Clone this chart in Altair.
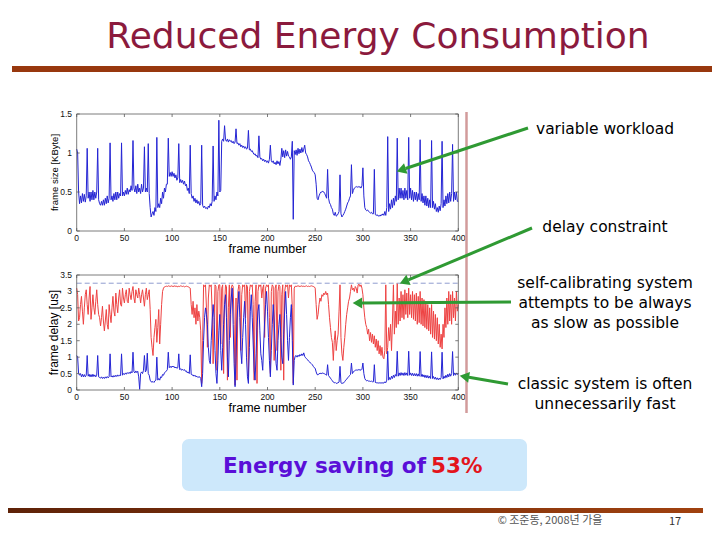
import math
import pandas as pd
import altair as alt

# ---------------- data ----------------
FRAME_SIZE = [
    1.05, 1.0, 0.5, 0.35, 0.45, 0.36, 0.48, 0.38, 0.47, 0.37,
    0.45, 1.06, 0.42, 0.5, 0.38, 0.5, 0.4, 0.52, 0.4, 0.5,
    0.42, 0.5, 1.06, 0.4, 0.35, 0.33, 0.38, 0.33, 0.4, 0.33,
    0.42, 0.35, 0.45, 0.36, 0.42, 1.13, 0.4, 0.45, 0.38, 0.48,
    0.4, 0.5, 0.4, 0.5, 0.42, 0.48, 0.45, 1.13, 0.45, 0.5,
    0.45, 0.52, 0.47, 0.55, 0.47, 0.53, 0.5, 0.58, 0.52, 1.16,
    0.55, 0.5, 0.58, 0.48, 0.6, 0.5, 0.55, 0.48, 0.6, 0.5,
    0.55, 1.08, 0.5, 0.55, 0.5, 1.12, 0.48, 0.3, 0.18, 0.22,
    0.25, 0.2, 0.3, 0.25, 1.2, 0.3, 0.35, 0.3, 0.42, 0.35,
    0.5, 0.42, 0.55, 0.5, 0.6, 0.6, 1.19, 0.7, 0.75, 0.7,
    0.76, 0.7, 0.74, 0.68, 0.72, 0.65, 0.68, 1.12, 0.62, 0.66,
    0.62, 0.65, 0.6, 0.64, 0.58, 0.6, 0.52, 0.55, 0.48, 1.1,
    0.48, 0.42, 0.45, 0.38, 0.42, 0.36, 0.4, 0.35, 0.38, 0.33,
    0.35, 1.1, 0.33, 0.3, 0.32, 0.29, 0.3, 0.28, 0.32, 0.3,
    0.35, 0.32, 0.38, 1.09, 0.38, 0.45, 0.4, 0.5, 0.45, 1.42,
    0.5, 0.52, 1.15, 1.18, 1.15, 1.35, 1.17, 1.15, 1.18, 1.14,
    1.17, 1.15, 1.16, 1.13, 1.15, 1.12, 1.14, 1.31, 1.12, 1.13,
    1.1, 1.12, 1.08, 1.1, 1.07, 1.09, 1.06, 1.08, 1.05, 1.06,
    1.29, 1.04, 1.05, 1.02, 1.03, 1.0, 0.98, 0.99, 0.96, 0.97,
    0.94, 1.22, 0.95, 0.92, 0.93, 0.9, 0.92, 0.89, 0.91, 0.88,
    0.9, 0.87, 0.92, 1.1, 0.9, 0.88, 0.9, 0.86, 0.88, 0.85,
    0.9, 0.86, 0.89, 0.84, 0.92, 1.06, 0.95, 1.03, 0.94, 1.04,
    0.96, 1.02, 0.96, 0.95, 0.92, 0.95, 1.15, 0.15, 1.03, 0.98,
    1.04, 0.97, 1.06, 0.99, 1.05, 1.0, 1.07, 1.01, 1.05, 1.1,
    1.0, 0.98, 0.95, 0.9, 0.88, 0.85, 0.82, 0.78, 0.76, 0.75,
    0.72, 0.6, 0.42, 0.4, 0.45, 0.48, 0.5, 0.5, 0.51, 0.5,
    0.48, 0.45, 0.42, 0.79, 0.42, 0.36, 0.34, 0.3, 0.28, 0.22,
    0.2, 0.24, 0.19, 0.2, 0.22, 0.25, 0.72, 0.22, 0.18, 0.2,
    0.22, 0.25, 0.28, 0.32, 0.36, 0.38, 0.42, 0.45, 0.85, 0.48,
    0.52, 0.55, 0.56, 0.57, 0.56, 0.57, 0.56, 0.57, 0.55, 0.58,
    0.81, 0.45, 0.3, 0.27, 0.26, 0.27, 0.25, 0.24, 0.23, 0.24,
    0.22, 0.22, 0.79, 0.21, 0.2, 0.21, 0.19, 0.2, 0.19, 0.21,
    0.2, 0.22, 0.2, 0.25, 0.2, 0.3, 1.21, 0.25, 0.35, 0.28,
    0.4, 0.3, 0.42, 0.33, 0.45, 0.38, 1.19, 0.4, 0.55, 0.42,
    0.55, 0.42, 0.52, 0.4, 0.55, 0.42, 0.52, 0.4, 1.2, 0.42,
    0.55, 0.4, 0.52, 0.38, 0.5, 0.4, 0.5, 0.38, 0.48, 0.4,
    1.17, 0.38, 0.48, 0.36, 0.45, 0.33, 0.45, 0.32, 0.42, 0.3,
    0.4, 0.3, 1.16, 0.3, 0.38, 0.28, 0.35, 0.25, 0.3, 0.24,
    0.32, 0.26, 0.35, 1.15, 0.3, 0.4, 0.32, 0.45, 0.35, 0.48,
    0.36, 0.5, 0.38, 0.48, 1.11, 0.38, 0.5, 0.4, 0.5, 0.38,
    0.38,
]

CLASSIC_DELAY = [
    1.05, 1.0, 0.5, 0.45, 0.5, 0.4, 0.48, 0.4, 0.47, 0.4,
    0.45, 1.05, 0.42, 0.48, 0.4, 0.47, 0.4, 0.48, 0.41, 0.46,
    0.4, 0.45, 1.05, 0.4, 0.38, 0.36, 0.4, 0.35, 0.39, 0.35,
    0.4, 0.36, 0.41, 0.37, 0.4, 1.1, 0.4, 0.43, 0.39, 0.44,
    0.4, 0.45, 0.41, 0.46, 0.42, 0.45, 0.44, 1.1, 0.45, 0.5,
    0.47, 0.52, 0.48, 0.53, 0.5, 0.54, 0.5, 0.56, 0.52, 1.15,
    0.55, 0.52, 0.58, 0.53, 0.57, 0.4, 0.02, 0.5, 0.55, 0.5,
    0.6, 1.05, 0.55, 0.6, 1.12, 0.5, 0.45, 0.3, 0.25, 0.24,
    0.26, 0.23, 0.28, 0.3, 1.0, 0.3, 0.35, 0.3, 0.4, 0.38,
    0.47, 0.45, 0.52, 0.55, 0.58, 0.62, 1.15, 0.68, 0.72, 0.68,
    0.73, 0.7, 0.72, 0.67, 0.7, 0.66, 0.68, 1.1, 0.62, 0.65,
    0.6, 0.63, 0.6, 0.62, 0.57, 0.58, 0.52, 0.55, 0.5, 1.07,
    0.48, 0.45, 0.46, 0.42, 0.45, 0.4, 0.42, 0.38, 0.4, 0.4,
    0.35, 0.1, 0.5, 1.5, 2.2, 2.5, 2.3, 2.0, 1.3, 0.9,
    0.8, 1.5, 2.1, 2.6, 2.2, 1.2, 0.5, 0.2, 0.9, 1.8,
    2.3, 1.2, 0.6, 1.3, 2.0, 2.6, 2.9, 2.2, 1.0, 0.4,
    1.5, 2.3, 2.8, 3.1, 2.0, 0.8, 0.1, 1.0, 2.1, 2.6,
    3.0, 2.2, 1.2, 0.8, 1.6, 2.2, 2.7, 2.0, 1.0, 0.4,
    0.2, 1.3, 2.4, 2.9, 2.2, 1.4, 0.6, 0.3, 1.1, 1.9,
    2.4, 2.6, 1.8, 1.1, 0.9, 0.6, 1.4, 2.1, 2.6, 3.0,
    2.4, 1.6, 0.9, 0.4, 1.2, 2.0, 2.6, 2.1, 1.4, 0.8,
    0.6, 1.5, 2.0, 2.3, 1.6, 1.0, 0.8, 1.7, 2.4, 3.0,
    2.3, 1.5, 0.9, 1.6, 2.2, 2.6, 1.5, 0.15, 0.9, 1.03,
    1.05, 1.0, 1.06, 1.02, 1.08, 1.04, 1.1, 1.05, 1.13, 1.02,
    0.98, 0.95, 0.92, 0.88, 0.86, 0.82, 0.8, 0.77, 0.72, 0.68,
    0.66, 0.55, 0.47, 0.46, 0.5, 0.5, 0.51, 0.5, 0.52, 0.5,
    0.49, 0.47, 0.45, 0.77, 0.44, 0.4, 0.36, 0.32, 0.28, 0.24,
    0.22, 0.23, 0.2, 0.21, 0.22, 0.24, 0.72, 0.22, 0.2, 0.21,
    0.22, 0.26, 0.3, 0.33, 0.37, 0.4, 0.44, 0.47, 0.82, 0.5,
    0.55, 0.58, 0.6, 0.61, 0.6, 0.62, 0.61, 0.62, 0.6, 0.63,
    0.82, 0.5, 0.35, 0.3, 0.28, 0.29, 0.27, 0.27, 0.26, 0.27,
    0.25, 0.25, 0.77, 0.23, 0.22, 0.22, 0.21, 0.22, 0.21, 0.22,
    0.21, 0.22, 0.21, 0.25, 0.22, 0.3, 1.18, 0.3, 0.38, 0.32,
    0.42, 0.35, 0.45, 0.38, 0.47, 0.42, 1.18, 0.42, 0.52, 0.44,
    0.53, 0.45, 0.52, 0.44, 0.53, 0.45, 0.52, 0.44, 1.18, 0.45,
    0.52, 0.44, 0.51, 0.43, 0.5, 0.43, 0.5, 0.42, 0.49, 0.42,
    1.17, 0.41, 0.48, 0.4, 0.46, 0.38, 0.45, 0.37, 0.44, 0.36,
    0.42, 0.35, 1.16, 0.35, 0.41, 0.33, 0.39, 0.32, 0.37, 0.31,
    0.36, 0.32, 0.38, 1.15, 0.34, 0.42, 0.36, 0.45, 0.38, 0.48,
    0.4, 0.5, 0.42, 0.5, 1.17, 0.44, 0.52, 0.45, 0.52, 0.47,
    0.5,
]

CALIBRATED_DELAY = [
    3.1, 2.9, 2.1, 2.2, 2.6, 2.85, 2.4, 2.0, 2.5, 2.9,
    3.05, 2.6, 2.3, 2.8, 3.15, 2.15, 2.5, 2.9, 2.5, 2.3,
    2.7, 3.05, 2.6, 2.3, 2.2, 1.95, 2.2, 2.55, 2.1, 1.8,
    2.1, 2.45, 2.0, 1.85, 2.6, 2.3, 2.05, 2.5, 2.85, 2.4,
    2.25, 2.95, 2.6, 2.35, 2.8, 3.05, 2.6, 2.55, 3.1, 2.8,
    2.65, 2.9, 3.05, 2.7, 2.65, 3.1, 2.9, 2.75, 3.0, 3.15,
    2.8, 2.65, 3.05, 2.9, 2.8, 3.1, 2.9, 2.65, 2.9, 3.05,
    2.8, 2.55, 2.9, 3.1, 2.75, 2.9, 3.05, 2.45, 1.6, 1.3,
    1.05, 1.6, 1.9, 2.15, 1.45, 1.9, 2.45, 1.4, 2.0, 2.6,
    3.0, 3.1, 3.14, 3.15, 3.16, 3.15, 3.17, 3.16, 3.15, 3.17,
    3.16, 3.15, 3.16, 3.17, 3.15, 3.16, 3.14, 3.16, 3.15, 3.17,
    3.16, 3.15, 3.16, 3.14, 3.15, 3.16, 3.15, 3.14, 3.12, 3.1,
    2.6, 2.3, 2.7, 2.2, 2.5, 2.0, 2.6, 2.1, 2.4, 2.2,
    1.8, 0.2, 1.5, 3.2, 3.15, 3.2, 2.5, 1.3, 2.8, 3.2,
    3.15, 3.2, 2.4, 0.8, 2.0, 3.2, 3.15, 0.6, 3.0, 3.2,
    3.2, 1.4, 3.1, 3.2, 0.5, 2.6, 3.2, 3.15, 0.3, 2.5,
    3.2, 1.6, 3.1, 3.2, 3.15, 2.0, 0.15, 2.8, 0.3, 3.0,
    3.2, 3.15, 1.2, 2.9, 3.2, 3.15, 3.2, 2.2, 3.2, 3.15,
    0.4, 3.0, 3.2, 3.15, 3.2, 2.6, 0.3, 2.7, 3.2, 0.2,
    3.0, 3.2, 3.15, 3.2, 2.8, 3.1, 3.2, 1.6, 3.1, 3.2,
    3.15, 3.2, 2.2, 0.5, 3.0, 3.2, 3.15, 0.9, 3.1, 3.2,
    1.2, 3.0, 3.2, 3.15, 0.6, 2.9, 3.2, 0.3, 3.0, 3.2,
    3.15, 3.2, 2.8, 3.2, 3.15, 3.2, 2.5, 0.2, 3.1, 3.16,
    3.15, 3.16, 3.17, 3.16, 3.15, 3.16, 3.17, 3.15, 3.16, 3.15,
    3.16, 3.17, 3.15, 3.16, 3.15, 3.16, 3.17, 3.16, 3.15, 3.14,
    3.1, 2.6, 2.15, 2.3, 2.6, 2.8, 2.7, 2.9, 2.85, 2.95,
    2.9, 3.0, 2.9, 2.95, 2.6, 2.2, 1.9, 1.6, 1.45, 0.9,
    1.5, 1.8, 1.2, 1.5, 1.7, 2.4, 3.2, 1.6, 1.1, 0.9,
    1.3, 1.6, 2.0, 2.3, 2.5, 2.7, 2.8, 3.0, 3.2, 3.05,
    3.1, 3.0, 3.15, 3.1, 2.95, 3.2, 3.22, 3.15, 3.2, 3.1,
    2.9, 2.5, 2.2, 2.0, 1.9, 1.7, 1.85, 1.5, 1.75, 1.45,
    1.7, 1.4, 1.65, 1.3, 1.55, 1.2, 1.5, 1.1, 1.35, 1.05,
    1.3, 1.0, 0.95, 1.2, 3.2, 1.1, 1.3, 1.9, 1.5, 2.0,
    1.2, 2.1, 3.2, 1.7, 2.4, 1.9, 3.25, 2.0, 2.8, 2.1,
    3.0, 2.2, 2.9, 2.15, 3.05, 2.3, 2.95, 2.2, 3.1, 2.3,
    2.9, 2.2, 3.0, 2.15, 2.9, 2.1, 2.95, 2.0, 2.85, 2.05,
    3.0, 2.0, 2.8, 1.95, 2.75, 1.9, 2.7, 1.85, 2.6, 1.8,
    2.5, 1.7, 2.6, 1.6, 2.4, 1.55, 2.3, 1.5, 2.2, 1.4,
    2.0, 1.3, 1.7, 1.25, 2.0, 1.6, 2.5, 1.9, 2.8, 2.0,
    3.0, 2.1, 2.9, 2.0, 3.0, 2.2, 2.8, 2.1, 3.0, 2.4,
    2.6,
]

DELAY_CONSTRAINT = 3.25
FRAME_DOMAIN = [0, 400]
X_TICKS = [0, 50, 100, 150, 200, 250, 300, 350, 400]
SIZE_DOMAIN = [0, 1.5]
SIZE_TICKS = [0, 0.5, 1, 1.5]
DELAY_DOMAIN = [0, 3.5]
DELAY_TICKS = [0, 0.5, 1, 1.5, 2, 2.5, 3, 3.5]

TITLE = "Reduced Energy Consumption"
X_TITLE = "frame number"
SIZE_TITLE = "frame size [KByte]"
DELAY_TITLE = "frame delay [us]"
NOTE_LINES = [
    "variable workload",
    "delay constraint",
    "self-calibrating system",
    "attempts to be always",
    "as slow as possible",
    "classic system is often",
    "unnecessarily fast",
]
SAVING_TEXT = "Energy saving of"
SAVING_VALUE = "53%"
FOOTER = "© 조준동, 2008년 가을"
PAGE_NO = "17"

# ---------------- layout (page pixels; the chart starts at the 8px margin) ----------------
M = 8
W, H = 704, 524


def cx(x):
    return x - M


def cy(y):
    return y - M


BLUE = "#2424d4"
RED = "#ee4242"
GREEN = "#2f9a33"
FRAME_GREY = "#5a5a5a"
AX_FONT = "Liberation Sans"
TXT_FONT = "DejaVu Sans"

X_RANGE = [cx(76.7), cx(458.3)]
TOP_Y_RANGE = [cy(231.0), cy(114.0)]
BOT_Y_RANGE = [cy(390.0), cy(275.0)]

xs = alt.Scale(domain=FRAME_DOMAIN, range=X_RANGE, nice=False, zero=False)
ys_top = alt.Scale(domain=SIZE_DOMAIN, range=TOP_Y_RANGE, nice=False)
ys_bot = alt.Scale(domain=DELAY_DOMAIN, range=BOT_Y_RANGE, nice=False)

ONE = pd.DataFrame({"k": [0]})
XT = pd.DataFrame({"v": X_TICKS})


def frame_layers(ys, ydom, yticks, y_bottom_px, y_top_px, ytitle, ytitle_size, ytitle_x):
    """Box, inward ticks, tick labels and titles of one MATLAB-style panel."""
    yt = pd.DataFrame({"v": yticks})
    layers = []
    layers.append(alt.Chart(ONE).mark_rect(filled=False, stroke=FRAME_GREY, strokeWidth=0.8).encode(
        x=alt.X(datum=FRAME_DOMAIN[0], scale=xs, axis=None), x2=alt.X2(datum=FRAME_DOMAIN[1]),
        y=alt.Y(datum=ydom[0], scale=ys, axis=None), y2=alt.Y2(datum=ydom[1])))
    for y0, y1 in ((y_bottom_px, y_bottom_px - 3), (y_top_px, y_top_px + 3)):
        layers.append(alt.Chart(XT).mark_rule(color=FRAME_GREY, strokeWidth=0.8).encode(
            x=alt.X("v:Q", scale=xs, axis=None), y=alt.value(cy(y0)), y2=alt.value(cy(y1))))
    for x0, x1 in ((76.7, 79.7), (458.3, 455.3)):
        layers.append(alt.Chart(yt).mark_rule(color=FRAME_GREY, strokeWidth=0.8).encode(
            y=alt.Y("v:Q", scale=ys, axis=None), x=alt.value(cx(x0)), x2=alt.value(cx(x1))))
    layers.append(alt.Chart(XT).mark_text(font=AX_FONT, fontSize=8.5, color="#111111",
                                          baseline="top", align="center").encode(
        x=alt.X("v:Q", scale=xs, axis=None), y=alt.value(cy(y_bottom_px + 3)),
        text=alt.Text("v:Q", format="~g")))
    layers.append(alt.Chart(yt).mark_text(font=AX_FONT, fontSize=8.5, color="#111111",
                                          baseline="middle", align="right").encode(
        y=alt.Y("v:Q", scale=ys, axis=None), x=alt.value(cx(72)),
        text=alt.Text("v:Q", format="~g")))
    layers.append(alt.Chart(ONE).mark_text(text=X_TITLE, font=AX_FONT, fontSize=12.5,
                                           color="black", baseline="middle").encode(
        x=alt.value(cx(267.5)), y=alt.value(cy(y_bottom_px + 18))))
    layers.append(alt.Chart(ONE).mark_text(text=ytitle, font=AX_FONT, fontSize=ytitle_size,
                                           color="black", baseline="middle", angle=270).encode(
        x=alt.value(cx(ytitle_x)), y=alt.value(cy((y_bottom_px + y_top_px) / 2))))
    return layers


# ---------------- top plot ----------------
top_df = pd.DataFrame({"frame": list(range(len(FRAME_SIZE))), "size": FRAME_SIZE})
top_line = alt.Chart(top_df).mark_line(color=BLUE, strokeWidth=1).encode(
    x=alt.X("frame:Q", scale=xs, axis=None),
    y=alt.Y("size:Q", scale=ys_top, axis=None))
top_plot = alt.layer(top_line, *frame_layers(ys_top, SIZE_DOMAIN, SIZE_TICKS, 231.0, 114.0,
                                             SIZE_TITLE, 9.5, 55))

# ---------------- bottom plot ----------------
n = len(CLASSIC_DELAY)
bot_df = pd.DataFrame({"frame": list(range(n)), "classic": CLASSIC_DELAY,
                       "calibrated": CALIBRATED_DELAY[:n]})
red_line = alt.Chart(bot_df).mark_line(color=RED, strokeWidth=1).encode(
    x=alt.X("frame:Q", scale=xs, axis=None),
    y=alt.Y("calibrated:Q", scale=ys_bot, axis=None))
blue_line = alt.Chart(bot_df).mark_line(color=BLUE, strokeWidth=1).encode(
    x=alt.X("frame:Q", scale=xs, axis=None),
    y=alt.Y("classic:Q", scale=ys_bot, axis=None))
limit = alt.Chart(ONE).mark_rule(color="#8f9ccf", strokeWidth=1, strokeDash=[5, 3]).encode(
    x=alt.X(datum=FRAME_DOMAIN[0], scale=xs, axis=None), x2=alt.X2(datum=FRAME_DOMAIN[1]),
    y=alt.Y(datum=DELAY_CONSTRAINT, scale=ys_bot, axis=None))
bot_plot = alt.layer(red_line, blue_line, limit,
                     *frame_layers(ys_bot, DELAY_DOMAIN, DELAY_TICKS, 390.0, 275.0,
                                   DELAY_TITLE, 12, 54))

# ---------------- slide decorations ----------------
deco = []


def text(s, x, y, size, color="black", font=TXT_FONT, weight="normal", align="center"):
    deco.append(alt.Chart(ONE).mark_text(text=s, font=font, fontSize=size, color=color,
                                         fontWeight=weight, align=align, baseline="middle")
                .encode(x=alt.value(cx(x)), y=alt.value(cy(y))))


def rect(x1, y1, x2, y2, color, radius=0):
    deco.append(alt.Chart(ONE).mark_rect(color=color, cornerRadius=radius)
                .encode(x=alt.value(max(cx(x1), 0)), x2=alt.value(min(cx(x2), W)),
                        y=alt.value(cy(y1)), y2=alt.value(cy(y2))))


text(TITLE, 378, 37, 36, color="#8b1a3d")
rect(12, 66, 720, 72, "#98380e")

deco.append(alt.Chart(ONE).mark_rect(color=alt.LinearGradient(
    gradient="linear", x1=0, x2=1, y1=0, y2=0,
    stops=[alt.GradientStop(color="#5e2208", offset=0),
           alt.GradientStop(color="#a0410f", offset=1)])).encode(
    x=alt.value(0), x2=alt.value(cx(703)), y=alt.value(cy(508)), y2=alt.value(cy(513))))

deco.append(alt.Chart(ONE).mark_rule(color="#d29b9b", strokeWidth=2.5).encode(
    x=alt.value(cx(466.5)), y=alt.value(cy(112)), y2=alt.value(cy(413))))

NOTE_Y = [129, 227, 283, 303, 323, 384, 404]
for s, y in zip(NOTE_LINES, NOTE_Y):
    text(s, 605, y, 15.5)

ARROWS = [((528, 128), (398, 171)), ((532, 228), (401, 283)),
          ((511, 302), (354, 303)), ((508, 384), (461, 376))]
for (tx, ty), (hx, hy) in ARROWS:
    dx, dy = hx - tx, hy - ty
    L = math.hypot(dx, dy)
    ux, uy = dx / L, dy / L
    ang = math.degrees(math.atan2(dx, -dy)) % 360
    deco.append(alt.Chart(ONE).mark_rule(color=GREEN, strokeWidth=3).encode(
        x=alt.value(cx(tx)), y=alt.value(cy(ty)),
        x2=alt.value(cx(hx - ux * 8)), y2=alt.value(cy(hy - uy * 8))))
    deco.append(alt.Chart(ONE).mark_point(shape="triangle", filled=True, size=120, angle=ang,
                                          color=GREEN, opacity=1).encode(
        x=alt.value(cx(hx - ux * 5)), y=alt.value(cy(hy - uy * 5))))

rect(182, 439, 527, 491, "#cde8fb", radius=7)
text(SAVING_TEXT, 426, 467, 21.5, color="#5a0fd8", weight="bold", align="right")
text(SAVING_VALUE, 431, 467, 21.5, color="#e3141c", weight="bold", align="left")

text(FOOTER, 550, 521, 11, color="#555555", font="Noto Sans CJK KR")
text(PAGE_NO, 675, 522, 11, color="#333333", font="Noto Sans CJK KR")

chart = alt.layer(top_plot, bot_plot, *deco).resolve_scale(
    x="independent", y="independent"
).properties(
    width=W, height=H, padding=0, background="white",
    autosize=alt.AutoSizeParams(type="none"),
).configure_view(stroke=None)

chart.save("out.html", embed_options={"renderer": "svg", "actions": False})
